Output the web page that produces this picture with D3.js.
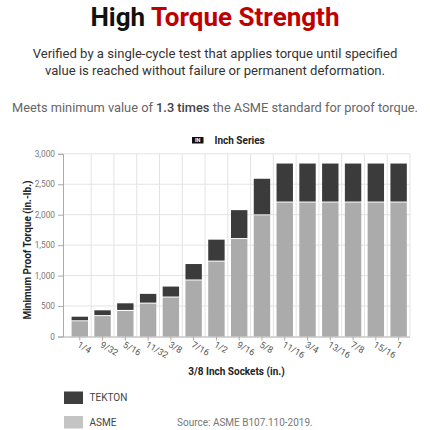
<!DOCTYPE html>
<html><head><meta charset="utf-8">
<script src="https://cdn.jsdelivr.net/npm/d3@7"></script>
<style>
html,body{margin:0;padding:0;background:#fff;}
svg{display:block;font-family:Roboto,"Noto Sans",sans-serif;}
</style></head>
<body>
<svg id="c" width="430" height="430"></svg>
<script>
const categories = ["1/4","9/32","5/16","11/32","3/8","7/16","1/2","9/16","5/8","11/16","3/4","13/16","7/8","15/16","1"];
const asmeValues = [250, 335, 420, 540, 640, 920, 1230, 1600, 1990, 2200, 2200, 2200, 2200, 2200, 2200];
const tektonValues = [325, 430, 545, 700, 820, 1190, 1590, 2075, 2590, 2840, 2840, 2840, 2840, 2840, 2840];
const yTicks = [0, 500, 1000, 1500, 2000, 2500, 3000];

const svg = d3.select("#c");
const colT = "#3b3b3b", colA = "#ababab";

// Header
const t = svg.append("text").attr("x", 215).attr("y", 26).attr("text-anchor", "middle")
  .attr("font-size", 26).attr("font-weight", "bold");
t.append("tspan").attr("fill", "#111").text("High ");
t.append("tspan").attr("fill", "#c00000").text("Torque Strength");

svg.append("text").attr("x", 215).attr("y", 57.5).attr("text-anchor", "middle")
  .attr("font-size", 13.1).attr("fill", "#333")
  .text("Verified by a single-cycle test that applies torque until specified");
svg.append("text").attr("x", 215).attr("y", 74.5).attr("text-anchor", "middle")
  .attr("font-size", 13.1).attr("fill", "#333")
  .text("value is reached without failure or permanent deformation.");
const l3 = svg.append("text").attr("x", 215).attr("y", 112).attr("text-anchor", "middle")
  .attr("font-size", 12.8).attr("fill", "#666");
l3.append("tspan").text("Meets minimum value of ");
l3.append("tspan").attr("font-weight", 500).attr("fill", "#444").text("1.3 times");
l3.append("tspan").text(" the ASME standard for proof torque.");

// Chart title badge
svg.append("rect").attr("x", 192).attr("y", 137).attr("width", 11.5).attr("height", 6.5).attr("fill", "#111");
svg.append("text").attr("x", 197.7).attr("y", 142.3).attr("text-anchor", "middle")
  .attr("font-size", 5.5).attr("font-weight", "bold").attr("fill", "#fff").text("IN");
svg.append("text").attr("x", 214.5).attr("y", 143.5).attr("font-size", 10)
  .attr("font-weight", "bold").attr("fill", "#222").text("Inch Series");

// Scales
const left = 63, right = 410;
const x = d3.scaleBand().domain(categories).range([68.4, 410]).paddingInner(0.28).paddingOuter(0.14);
const y = d3.scaleLinear().domain([0, 3000]).range([336.5, 153.8]);

// Gridlines
const g = svg.append("g");
g.selectAll("line.h").data(yTicks.slice(1)).join("line")
  .attr("x1", left).attr("x2", right).attr("y1", d => y(d)).attr("y2", d => y(d))
  .attr("stroke", "#e3e3e3").attr("stroke-width", 1);
const step = x.step();
g.selectAll("line.v").data(categories).join("line")
  .attr("x1", d => x(d) + x.bandwidth() / 2 + step / 2)
  .attr("x2", d => x(d) + x.bandwidth() / 2 + step / 2)
  .attr("y1", y(3000)).attr("y2", y(0))
  .attr("stroke", "#e3e3e3").attr("stroke-width", 1);

// Bars
const bars = svg.append("g");
bars.selectAll("rect.a").data(categories).join("rect")
  .attr("x", d => x(d)).attr("width", x.bandwidth())
  .attr("y", (d, i) => y(asmeValues[i])).attr("height", (d, i) => y(0) - y(asmeValues[i]))
  .attr("fill", colA);
bars.selectAll("rect.t").data(categories).join("rect")
  .attr("x", d => x(d)).attr("width", x.bandwidth())
  .attr("y", (d, i) => y(tektonValues[i])).attr("height", (d, i) => y(asmeValues[i]) - y(tektonValues[i]) - 1)
  .attr("fill", colT);

// Y axis
const ya = svg.append("g").attr("transform", `translate(${left},0)`)
  .call(d3.axisLeft(y).tickValues(yTicks).tickFormat(d3.format(",")).tickSize(5).tickPadding(3));
ya.select(".domain").attr("stroke", "#aaa");
ya.selectAll(".tick line").attr("stroke", "#aaa");
ya.selectAll(".tick text").attr("fill", "#777").attr("font-size", 8.3).attr("font-family", "Roboto,sans-serif");

// X axis
const xa = svg.append("g").attr("transform", `translate(0,${y(0)})`)
  .call(d3.axisBottom(x).tickSize(4).tickSizeOuter(0));
xa.select(".domain").attr("stroke", "#aaa").attr("d", `M${left},0.5H${right}`);
xa.selectAll(".tick line").attr("stroke", "#aaa");
xa.selectAll(".tick text").attr("fill", "#555").attr("font-size", 9).attr("font-family", "Roboto,sans-serif")
  .attr("text-anchor", "start").attr("dy", null).attr("y", 0).attr("x", 0)
  .attr("transform", "translate(-3,10) rotate(30)");

// Axis titles
svg.append("text").attr("transform", "translate(31,250) rotate(-90)").attr("text-anchor", "middle")
  .attr("font-size", 10).attr("font-weight", "bold").attr("fill", "#222").text("Minimum Proof Torque (in.-lb.)");
svg.append("text").attr("x", 236.5).attr("y", 375).attr("text-anchor", "middle")
  .attr("font-size", 10).attr("font-weight", "bold").attr("fill", "#222").text("3/8 Inch Sockets (in.)");

// Legend
const legend = [{name: "TEKTON", color: "#3e3e3e", y: 391.5}, {name: "ASME", color: "#c4c4c4", y: 416}];
const lg = svg.append("g");
lg.selectAll("rect").data(legend).join("rect")
  .attr("x", 64).attr("y", d => d.y).attr("width", 19).attr("height", 12.5).attr("fill", d => d.color);
lg.selectAll("text").data(legend).join("text")
  .attr("x", 89.5).attr("y", d => d.y + 9.5).attr("font-size", 10).attr("fill", "#444").text(d => d.name);
svg.append("text").attr("x", 177).attr("y", 425.5).attr("font-size", 10).attr("fill", "#777")
  .text("Source: ASME B107.110-2019.");
</script>
</body></html>
